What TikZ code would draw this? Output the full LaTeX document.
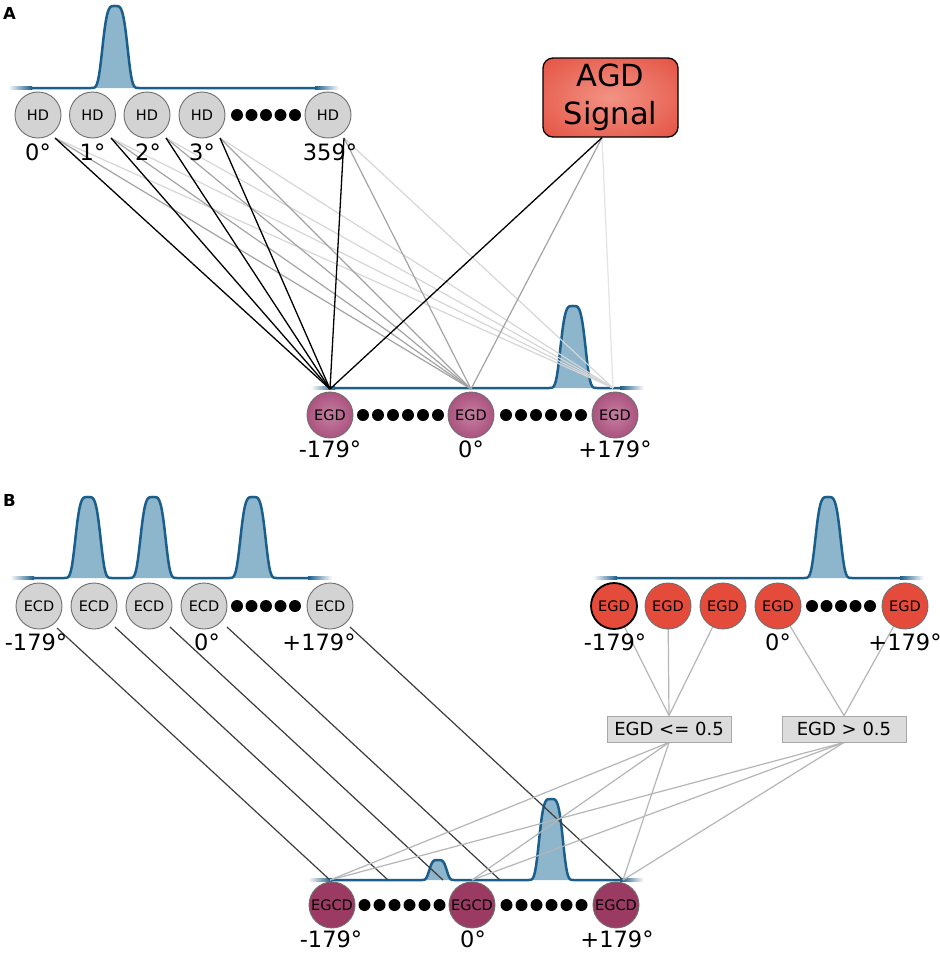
\documentclass[tikz,border=0pt]{standalone}
\usepackage{fontspec}
\setmainfont{DejaVu Sans}
\usetikzlibrary{calc}
\definecolor{bline}{HTML}{1A5E8C}
\definecolor{bfill}{HTML}{8DB5CC}
\definecolor{hdfill}{HTML}{D3D3D3}
\definecolor{nborder}{HTML}{6E6E6E}
\definecolor{egdin}{HTML}{C47FA2}
\definecolor{egdmid}{HTML}{AE5883}
\definecolor{egdout}{HTML}{9A3E6A}
\definecolor{egdred}{HTML}{E54B3A}
\definecolor{egcdfill}{HTML}{9B3A63}
\definecolor{agdin}{HTML}{F29384}
\definecolor{agdout}{HTML}{E24A3B}
\definecolor{boxfill}{HTML}{DCDCDC}
\definecolor{boxborder}{HTML}{A8A8A8}
\definecolor{lmid}{HTML}{A3A3A3}
\definecolor{llight}{HTML}{D6D6D6}
\definecolor{lvlight}{HTML}{E3E3E3}
\definecolor{ldark}{HTML}{3C3C3C}
\definecolor{lgray}{HTML}{B5B5B5}
\pgfdeclareradialshading{egdsh}{\pgfpoint{0bp}{0bp}}{color(0bp)=(egdin); color(22bp)=(egdmid); color(42bp)=(egdout); color(50bp)=(egdout)}
\pgfdeclareradialshading{agdsh}{\pgfpoint{0bp}{0bp}}{color(0bp)=(agdin); color(40bp)=(agdout); color(50bp)=(agdout)}
\pgfdeclarelayer{bg}
\pgfsetlayers{bg,main}
\begin{document}
\begin{tikzpicture}[x=1pt,y=-1pt,
  declare function={bmp(\x,\m,\s)=exp(-(abs(\x-\m)/\s)^4);},
  circ/.style={circle, minimum size=46pt, inner sep=0pt, draw=nborder, line width=0.9pt, font=\fontsize{14.5}{16}\selectfont},
  hdn/.style={circ, fill=hdfill},
  egda/.style={circ, shading=egdsh},
  egdr/.style={circ, fill=egdred},
  egcdn/.style={circ, fill=egcdfill},
  deg/.style={anchor=base, inner sep=0pt, font=\fontsize{22.5}{26}\selectfont},
  panel/.style={anchor=base west, inner sep=0pt, font=\fontsize{16.5}{18}\selectfont\bfseries},
  cbox/.style={rectangle, minimum width=124pt, minimum height=26pt, inner sep=0pt, fill=boxfill, draw=boxborder, line width=0.9pt, font=\fontsize{18}{20}\selectfont},
  bumpline/.style={draw=bline, line width=2.5pt, line join=round},
  lk/.style={draw=black, line width=1.3pt},
  lm/.style={draw=lmid, line width=1.2pt},
  ll/.style={draw=llight, line width=1.2pt},
  lv/.style={draw=lvlight, line width=1.2pt},
  ld/.style={draw=ldark, line width=1.2pt},
  lg/.style={draw=lgray, line width=1.2pt},
]
\useasboundingbox (0,0) rectangle (940,954);

% ---------------- Panel A ----------------
\node[panel] (pa) at (3,19) {A};
\node[hdn] (hd0) at (38,115) {HD};
\node[hdn] (hd1) at (92.5,115) {HD};
\node[hdn] (hd2) at (147,115) {HD};
\node[hdn] (hd3) at (202,115) {HD};
\node[hdn] (hd359) at (328,115) {HD};
\foreach \x in {237,251.5,266,280.5,295} \fill (\x,115) circle (6pt);

\node[rectangle, rounded corners=10pt, minimum width=135pt, minimum height=79pt, draw=black, line width=1.3pt, shading=agdsh, align=center, inner sep=0pt, font=\fontsize{30.5}{38}\selectfont] (agd) at (610.5,97.5) {AGD\\Signal};

\node[egda] (ea1) at (330,415) {EGD};
\node[egda] (ea2) at (471,415) {EGD};
\node[egda] (ea3) at (615,415) {EGD};
\foreach \x in {363,378,393,408,423,438,506,521,536,551,566,581} \fill (\x,415) circle (6pt);

\coordinate (hd0o) at ($(hd0.center)+(17,23)$);
\coordinate (hd1o) at ($(hd1.center)+(18.5,23)$);
\coordinate (hd2o) at ($(hd2.center)+(19,23)$);
\coordinate (hd3o) at ($(hd3.center)+(18,23)$);
\coordinate (hd359o) at ($(hd359.center)+(16,23)$);
\coordinate (agdo) at ($(agd.south)+(-8.5,0)$);
\coordinate (ta1) at ($(ea1.center)+(0,-26)$);
\coordinate (ta2) at ($(ea2.center)+(0,-26)$);
\coordinate (ta3) at ($(ea3.center)+(-2,-27)$);

\node[deg] (l0) at (38,160) {0°};
\node[deg] (l1) at (92.5,160) {1°};
\node[deg] (l2) at (148,160) {2°};
\node[deg] (l3) at (202,160) {3°};
\node[deg] (l359) at (330,160) {359°};
\node[deg] (la1) at (330,457) {-179°};
\node[deg] (la2) at (471,457) {0°};
\node[deg] (la3) at (615,457) {+179°};

% ---------------- Panel B ----------------
\node[panel] (pb) at (3,506) {B};
\node[hdn] (ec1) at (39,606) {ECD};
\node[hdn] (ec2) at (94,606) {ECD};
\node[hdn] (ec3) at (149,606) {ECD};
\node[hdn] (ec4) at (204,606) {ECD};
\node[hdn] (ec5) at (330,606) {ECD};
\foreach \x in {237,251.5,266,280.5,295} \fill (\x,606) circle (6pt);
\node[deg] (lb1) at (36,650) {-179°};
\node[deg] (lb2) at (207,650) {0°};
\node[deg] (lb3) at (319,650) {+179°};

\node[egdr, draw=black, line width=1.8pt] (eg1) at (614,606) {EGD};
\node[egdr] (eg2) at (668,606) {EGD};
\node[egdr] (eg3) at (723,606) {EGD};
\node[egdr] (eg4) at (778,606) {EGD};
\node[egdr] (eg5) at (905,606) {EGD};
\foreach \x in {812,826.5,841,855.5,870} \fill (\x,606) circle (6pt);
\node[deg] (lr1) at (615,650) {-179°};
\node[deg] (lr2) at (778,650) {0°};
\node[deg] (lr3) at (905,650) {+179°};

\node[cbox] (box1) at (669,729) {EGD <= 0.5};
\node[cbox] (box2) at (844,729) {EGD > 0.5};

\node[egcdn] (gc1) at (332,905) {EGCD};
\node[egcdn] (gc2) at (472,905) {EGCD};
\node[egcdn] (gc3) at (616,905) {EGCD};
\foreach \x in {364.5,379.5,394.5,409.5,424.5,439.5,506.5,521.5,536.5,551.5,566.5,581.5} \fill (\x,905) circle (6pt);
\node[deg] (lg1) at (331,947) {-179°};
\node[deg] (lg2) at (473,947) {0°};
\node[deg] (lg3) at (617,947) {+179°};

\coordinate (ec1o) at (57,628);
\coordinate (ec2o) at (115,627);
\coordinate (ec3o) at (170,627);
\coordinate (ec4o) at (227,627);
\coordinate (ec5o) at (350,627);
\coordinate (tb1) at ($(gc1.center)+(-2,-25)$);
\coordinate (tbm1) at (388,880);
\coordinate (tbm2) at (443,880);
\coordinate (tb2) at ($(gc2.center)+(0,-25)$);
\coordinate (tbm3) at (500,880);
\coordinate (tb3) at ($(gc3.center)+(7,-25)$);

\begin{pgfonlayer}{bg}
% bumps panel A top
\fill[bfill] plot[domain=90:140,samples=51] (\x,{88-82*bmp(\x,115,13.7)}) -- cycle;
\draw[bumpline] (32,88) -- plot[domain=90:140,samples=51] (\x,{88-82*bmp(\x,115,13.7)}) -- (315,88);
\shade[left color=white,right color=bline] (8,86.75) rectangle (32,89.25);
\shade[left color=bline,right color=white] (315,86.75) rectangle (339,89.25);
% bump panel A bottom
\fill[bfill] plot[domain=548:598,samples=51] (\x,{388-82*bmp(\x,573,13.7)}) -- cycle;
\draw[bumpline] (335,388) -- plot[domain=548:598,samples=51] (\x,{388-82*bmp(\x,573,13.7)}) -- (620,388);
\shade[left color=white,right color=bline] (311,386.75) rectangle (335,389.25);
\shade[left color=bline,right color=white] (620,386.75) rectangle (644,389.25);
% bumps panel B top left
\fill[bfill] plot[domain=63:113,samples=51] (\x,{578-81*bmp(\x,88,13.7)}) -- cycle;
\fill[bfill] plot[domain=128:178,samples=51] (\x,{578-81*bmp(\x,153,13.7)}) -- cycle;
\fill[bfill] plot[domain=228:278,samples=51] (\x,{578-81*bmp(\x,253,13.7)}) -- cycle;
\draw[bumpline] (34,578) -- plot[domain=63:113,samples=51] (\x,{578-81*bmp(\x,88,13.7)})
  -- plot[domain=128:178,samples=51] (\x,{578-81*bmp(\x,153,13.7)})
  -- plot[domain=228:278,samples=51] (\x,{578-81*bmp(\x,253,13.7)}) -- (308,578);
\shade[left color=white,right color=bline] (10,576.75) rectangle (34,579.25);
\shade[left color=bline,right color=white] (308,576.75) rectangle (332,579.25);
% bump panel B top right
\fill[bfill] plot[domain=803:853,samples=51] (\x,{578-81*bmp(\x,828,13.7)}) -- cycle;
\draw[bumpline] (617,578) -- plot[domain=803:853,samples=51] (\x,{578-81*bmp(\x,828,13.7)}) -- (900,578);
\shade[left color=white,right color=bline] (593,576.75) rectangle (617,579.25);
\shade[left color=bline,right color=white] (900,576.75) rectangle (924,579.25);
% bumps panel B bottom
\fill[bfill] plot[domain=418:458,samples=41] (\x,{880-20*bmp(\x,438,9.5)}) -- cycle;
\fill[bfill] plot[domain=526:576,samples=51] (\x,{880-81*bmp(\x,551,13)}) -- cycle;
\draw[bumpline] (332,880) -- plot[domain=418:458,samples=41] (\x,{880-20*bmp(\x,438,9.5)})
  -- plot[domain=526:576,samples=51] (\x,{880-81*bmp(\x,551,13)}) -- (620,880);
\shade[left color=white,right color=bline] (308,878.75) rectangle (332,881.25);
\shade[left color=bline,right color=white] (620,878.75) rectangle (644,881.25);

% connectors panel A
\foreach \s in {hd0o,hd1o,hd2o,hd3o,hd359o} {
  \draw[ll] (\s) -- (ta3);
  \draw[lm] (\s) -- (ta2);
}
\draw[lv] (agdo) -- (ta3);
\draw[lm] (agdo) -- (ta2);
\foreach \s in {hd0o,hd1o,hd2o,hd3o,hd359o,agdo} \draw[lk] (\s) -- (ta1);

% connectors panel B
\draw[ld] (ec1o) -- (tb1);
\draw[ld] (ec2o) -- (tbm1);
\draw[ld] (ec3o) -- (tbm2);
\draw[ld] (ec4o) -- (tbm3);
\draw[ld] (ec5o) -- (tb3);
\foreach \s in {eg1,eg2,eg3} \draw[lg] (\s.center) -- (box1.north);
\foreach \s in {eg4,eg5} \draw[lg] (\s.center) -- (box2.north);
\foreach \t in {tb1,tb2,tb3} {
  \draw[lg] (box1.south) -- (\t);
  \draw[lg] (box2.south) -- (\t);
}
\end{pgfonlayer}
\end{tikzpicture}
\end{document}
